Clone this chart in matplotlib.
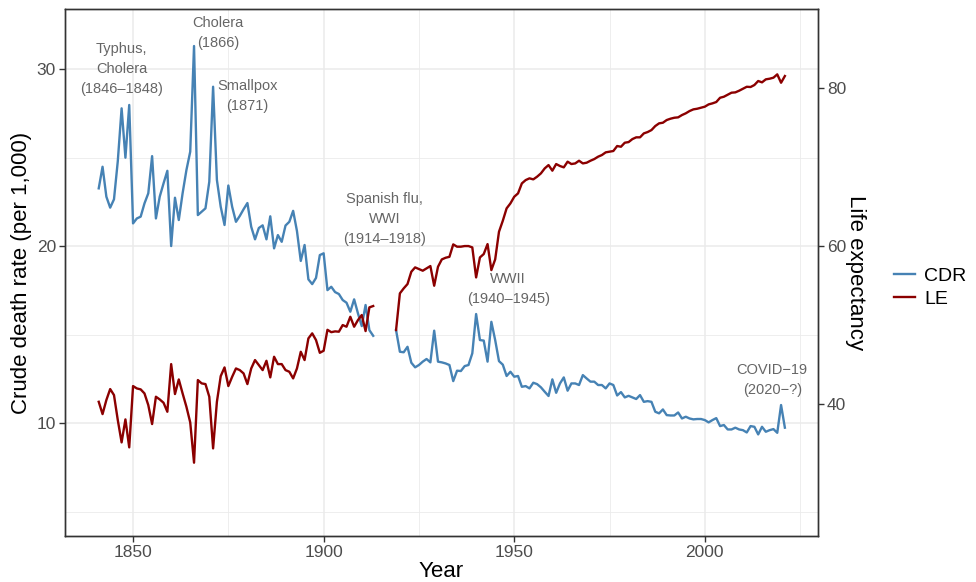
import numpy as np
import matplotlib
matplotlib.use("Agg")
import matplotlib.pyplot as plt
from matplotlib.lines import Line2D
from matplotlib.ticker import FixedLocator

plt.rcParams['font.family'] = ['Liberation Sans', 'DejaVu Sans']

# England & Wales: crude death rate (per 1,000) and life expectancy, 1841-2021
# (no values for 1914-1918)
years = list(range(1841, 2022))

cdr_1841_1913 = [
    23.26, 24.48, 22.79, 22.17, 22.64, 24.80, 27.78, 24.99, 27.97, 21.28,
    21.56, 21.66, 22.41, 22.98, 25.08, 21.56, 22.79, 23.54, 24.25, 20.00,
    22.73, 21.47, 22.98, 24.29, 25.33, 31.30, 21.75, 21.94, 22.13, 23.63,
    29.00, 23.73, 22.22, 21.19, 23.42, 22.22, 21.37, 21.70, 22.08, 22.43,
    21.09, 20.38, 21.02, 21.17, 20.38, 21.68, 19.87, 20.62, 20.24, 21.16,
    21.37, 21.99, 20.85, 19.16, 20.06, 18.12, 17.85, 18.20, 19.49, 19.59,
    17.51, 17.70, 17.40, 17.29, 16.95, 16.80, 16.29, 16.99, 16.20, 15.48,
    16.67, 15.25, 14.93,
]
cdr_1919_2021 = [
    15.25, 14.03, 14.00, 14.31, 13.41, 13.15, 13.28, 13.47, 13.62, 13.43,
    15.22, 13.47, 13.43, 13.37, 13.28, 12.37, 12.96, 12.94, 13.22, 13.28,
    13.94, 16.16, 14.69, 14.66, 13.47, 15.72, 14.69, 13.50, 13.30, 12.66,
    12.90, 12.62, 12.66, 12.05, 12.09, 11.96, 12.28, 12.20, 12.02, 11.77,
    11.53, 12.47, 11.71, 12.24, 12.58, 11.83, 12.24, 12.24, 12.15, 12.71,
    12.52, 12.34, 12.34, 12.15, 12.15, 11.96, 12.24, 12.15, 11.56, 11.75,
    11.45, 11.54, 11.45, 11.36, 11.58, 11.20, 11.24, 11.20, 10.64, 10.55,
    10.77, 10.45, 10.43, 10.43, 10.60, 10.26, 10.36, 10.26, 10.21, 10.23,
    10.23, 10.17, 10.04, 10.17, 10.28, 9.83, 9.89, 9.64, 9.64, 9.74,
    9.64, 9.60, 9.47, 9.83, 9.79, 9.36, 9.79, 9.51, 9.60, 9.66,
    9.45, 11.02, 9.74,
]

le_1841_1913 = [
    40.29, 38.73, 40.51, 41.90, 41.14, 37.97, 35.15, 38.06, 34.52, 42.28,
    41.98, 41.86, 41.35, 39.87, 37.47, 40.93, 40.59, 40.17, 39.03, 45.06,
    41.27, 43.12, 41.35, 39.66, 37.68, 32.58, 43.04, 42.62, 42.53, 40.93,
    34.39, 40.29, 43.54, 44.64, 42.28, 43.45, 44.51, 44.30, 43.88, 42.53,
    44.51, 45.57, 44.94, 44.30, 45.48, 43.38, 45.99, 45.06, 45.06, 44.30,
    44.09, 43.25, 44.51, 46.62, 45.57, 48.31, 48.95, 48.10, 46.49, 46.75,
    49.40, 49.10, 49.20, 49.16, 50.00, 49.79, 51.05, 49.79, 50.63, 51.27,
    49.24, 52.24, 52.41,
]
le_1919_2021 = [
    49.37, 54.01, 54.64, 55.19, 56.75, 57.30, 57.09, 56.88, 57.17, 57.47,
    54.98, 57.38, 58.31, 58.52, 58.64, 60.21, 59.92, 59.92, 60.00, 60.00,
    59.83, 56.03, 58.56, 58.99, 60.25, 56.96, 58.31, 61.81, 63.20, 64.77,
    65.40, 66.24, 66.67, 67.93, 68.35, 68.57, 68.44, 68.78, 69.20, 69.83,
    70.25, 69.54, 70.38, 70.13, 69.96, 70.68, 70.38, 70.46, 70.80, 70.46,
    70.55, 70.80, 71.01, 71.31, 71.52, 71.86, 71.94, 72.03, 72.66, 72.57,
    73.08, 73.16, 73.54, 73.76, 73.76, 74.26, 74.43, 74.68, 75.19, 75.53,
    75.61, 75.95, 76.12, 76.24, 76.29, 76.58, 76.80, 77.09, 77.30, 77.38,
    77.51, 77.64, 77.93, 78.06, 78.23, 78.77, 78.90, 79.16, 79.41, 79.45,
    79.66, 79.91, 80.16, 80.13, 80.38, 80.89, 80.72, 81.10, 81.18, 81.31,
    81.73, 80.67, 81.52,
]

gap = [np.nan] * 5  # 1914-1918
cdr = cdr_1841_1913 + gap + cdr_1919_2021
le = le_1841_1913 + gap + le_1919_2021

# event labels: (year, crude death rate position, text)
events_year = [1847, 1872.3, 1880, 1916, 1948.4, 2017.7]
events_cdr = [30.0, 32.03, 28.5, 21.53, 17.57, 12.43]
events_text = [
    "Typhus,\nCholera\n(1846\u20131848)",
    "Cholera\n(1866)",
    "Smallpox\n(1871)",
    "Spanish flu,\nWWI\n(1914\u20131918)",
    "WWII\n(1940\u20131945)",
    "COVID\u221219\n(2020\u2212?)",
]

cdr_color = "#4682B4"
le_color = "#8B0000"

# secondary axis: LE = 60 + k * (CDR - 20)
k = 2.2405
cdr_lim = (3.62, 33.39)
le_lim = tuple(60 + k * (v - 20) for v in cdr_lim)

fig = plt.figure(figsize=(9.76, 5.82), dpi=100)
ax = fig.add_axes([0.0666, 0.079, 0.838 - 0.0666, 0.9845 - 0.079])
ax2 = ax.twinx()

ax.set_xlim(1832.15, 2029.66)
ax.set_ylim(*cdr_lim)
ax2.set_ylim(*le_lim)

# grid (major + minor), ggplot-like
ax.xaxis.set_major_locator(FixedLocator([1850, 1900, 1950, 2000]))
ax.xaxis.set_minor_locator(FixedLocator([1875, 1925, 1975, 2025]))
ax.yaxis.set_major_locator(FixedLocator([10, 20, 30]))
ax.yaxis.set_minor_locator(FixedLocator([5, 15, 25]))
ax.grid(which="major", color="#EBEBEB", lw=1.1, zorder=0)
ax.grid(which="minor", color="#EBEBEB", lw=0.6, zorder=0)
ax.tick_params(which="minor", length=0)
ax2.yaxis.set_major_locator(FixedLocator([40, 60, 80]))

ax.plot(years, cdr, color=cdr_color, lw=1.7, zorder=3)
ax2.plot(years, le, color=le_color, lw=1.7, zorder=3)

for x, y, t in zip(events_year, events_cdr, events_text):
    ax.text(x, y, t, ha="center", va="center", fontsize=10.5,
            color="#666666", linespacing=1.55, zorder=4)

for a in (ax, ax2):
    for s in a.spines.values():
        s.set_color("#333333")
        s.set_linewidth(1.0)
    a.tick_params(which="major", colors="#333333", labelcolor="#4D4D4D",
                  labelsize=12.5, length=4, width=1.0, pad=2.5)

ax.set_xlabel("Year", fontsize=16, labelpad=1)
ax.set_ylabel("Crude death rate (per 1,000)", fontsize=16, labelpad=3)
ax2.set_ylabel("Life expectancy", fontsize=16, rotation=270, labelpad=14)

handles = [Line2D([], [], color=cdr_color, lw=1.7),
           Line2D([], [], color=le_color, lw=1.7)]
fig.legend(handles, ["CDR", "LE"], loc="center left",
           bbox_to_anchor=(0.916, 0.506), frameon=False, fontsize=14,
           handlelength=1.1, handletextpad=0.45, labelspacing=0.3,
           borderpad=0, borderaxespad=0)

fig.savefig("out.png", dpi=100)
